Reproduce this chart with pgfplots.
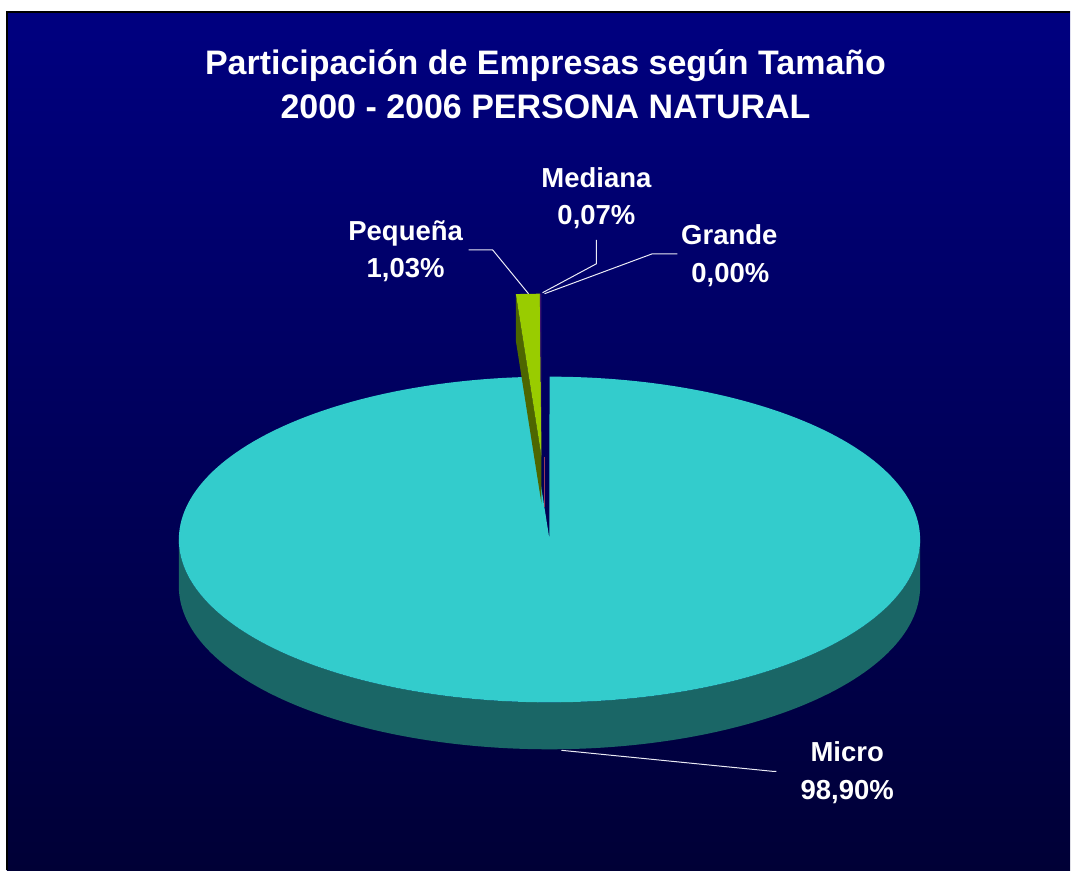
\documentclass[border=0pt]{standalone}
\usepackage{pgfplots}
\pgfplotsset{compat=1.18}
\usepackage{pgfplotstable}
\usepackage{fontspec}
\setmainfont{Liberation Sans}
\definecolor{bgtop}{RGB}{0,0,128}
\definecolor{bgbot}{RGB}{0,0,54}
\definecolor{microtop}{RGB}{51,204,204}
\definecolor{microside}{RGB}{26,102,102}
\definecolor{peqtop}{RGB}{153,204,0}
\definecolor{peqside}{RGB}{77,102,0}
\definecolor{medtop}{RGB}{60,20,110}
\definecolor{medside}{RGB}{150,60,90}
\definecolor{leader}{RGB}{235,235,245}

\pgfplotstableread{
cat value
Micro 98.90
Pequena 1.03
Mediana 0.07
Grande 0.00
}\piedata

\begin{document}
\begin{tikzpicture}
\pgfplotstablegetelem{0}{value}\of\piedata \let\vMicro\pgfplotsretval
\pgfplotstablegetelem{1}{value}\of\piedata \let\vPeq\pgfplotsretval
\pgfplotstablegetelem{2}{value}\of\piedata \let\vMed\pgfplotsretval
\pgfplotstablegetelem{3}{value}\of\piedata \let\vGra\pgfplotsretval
% geometry (1 unit = 1 px)
\def\cx{550}\def\cy{540}\def\ra{371}\def\rb{163}\def\dd{47}
\def\sx{-8}\def\sy{-83}
% angles: slices run clockwise from 90 deg
\pgfmathsetmacro{\tMicroStart}{90+360-3.6*\vMicro}
\pgfmathsetmacro{\tMedEnd}{90+3.6*\vMed}
\pgfmathsetmacro{\tPeqEnd}{\tMedEnd+3.6*\vPeq}
\begin{axis}[scale only axis, width=1071pt, height=871pt,
  xmin=0, xmax=1071, ymin=0, ymax=871, y dir=reverse,
  hide axis, clip=false]
% page and background
\fill[white] (0,0) rectangle (1071,871);
\shade[top color=bgtop, bottom color=bgbot] (7,12) rectangle (1071,871);
\draw[black, line width=2pt] (7,871) -- (7,12) -- (1071,12);
% pie side (front half)
\fill[microside] plot[domain=180:360, samples=120, variable=\t] ({\cx+\ra*cos(\t)},{\cy-\rb*sin(\t)})
  -- plot[domain=360:180, samples=120, variable=\t] ({\cx+\ra*cos(\t)},{\cy-\rb*sin(\t)+\dd}) -- cycle;
% Micro top face
\fill[microtop] (\cx,\cy) -- plot[domain=\tMicroStart:450, samples=240, variable=\t] ({\cx+\ra*cos(\t)},{\cy-\rb*sin(\t)}) -- cycle;
% Mediana thin side line (exploded)
\draw[medside, line width=0.8pt] ({\cx+\sx+3},{\cy+\sy}) -- ({\cx+\sx+3},{\cy+\sy+\dd+3});
% exploded Pequena slice: side face
\fill[peqside] ({\cx+\sx},{\cy+\sy})
  -- ({\cx+\sx+\ra*cos(\tPeqEnd)},{\cy+\sy-\rb*sin(\tPeqEnd)})
  -- ({\cx+\sx+\ra*cos(\tPeqEnd)},{\cy+\sy-\rb*sin(\tPeqEnd)+\dd})
  -- ({\cx+\sx},{\cy+\sy+\dd}) -- cycle;
% Pequena top face
\fill[peqtop] ({\cx+\sx},{\cy+\sy}) -- plot[domain=\tMedEnd:\tPeqEnd, samples=10, variable=\t]
  ({\cx+\sx+\ra*cos(\t)},{\cy+\sy-\rb*sin(\t)}) -- cycle;
% Mediana top face
\fill[medtop] ({\cx+\sx},{\cy+\sy}) -- plot[domain=90:\tMedEnd, samples=3, variable=\t]
  ({\cx+\sx+\ra*cos(\t)},{\cy+\sy-\rb*sin(\t)}) -- cycle;
% leader lines
\draw[leader, line width=1pt] (469,250) -- (493,250) -- (529,294);
\draw[leader, line width=1pt] (597,240) -- (597,264) -- (543,293);
\draw[leader, line width=1pt] (678,254) -- (653,254) -- (545,294);
\draw[leader, line width=1pt] (562,751) -- (773,772) -- (777,772);
% title
\node[white, anchor=base, font=\fontsize{34}{40}\selectfont\bfseries] at (546,75) {Participación de Empresas según Tamaño};
\node[white, anchor=base, font=\fontsize{34}{40}\selectfont\bfseries] at (546,119) {2000 - 2006 PERSONA NATURAL};
% labels
\tikzset{lab/.style={white, anchor=base, font=\fontsize{27.5}{32}\selectfont\bfseries}}
\node[lab] at (406,241) {Pequeña};
\node[lab] at (406,278) {1,03\%};
\node[lab] at (597,188) {Mediana};
\node[lab] at (597,225) {0,07\%};
\node[lab] at (730,245) {Grande};
\node[lab] at (731,283) {0,00\%};
\node[lab] at (848,762) {Micro};
\node[lab] at (848,800) {98,90\%};
\end{axis}
\end{tikzpicture}
\end{document}
